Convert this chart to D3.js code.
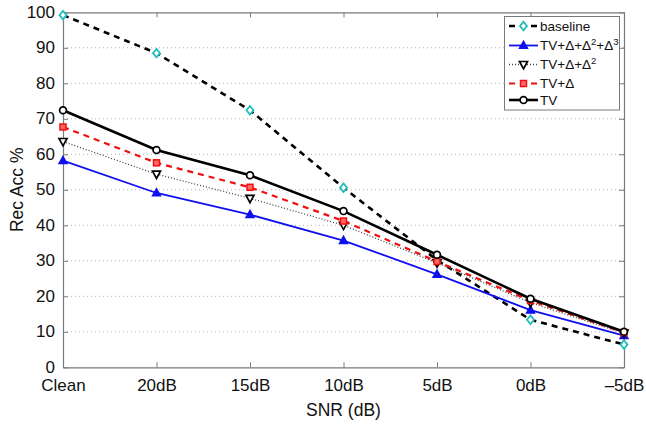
<!DOCTYPE html>
<html>
<head>
<meta charset="utf-8">
<script src="https://cdn.jsdelivr.net/npm/d3@7"></script>
<style>
  html, body { margin: 0; padding: 0; background: #fff; }
  svg { display: block; font-family: "Liberation Sans", Arial, Helvetica, sans-serif; }
</style>
</head>
<body>
<svg id="chart" width="646" height="424"></svg>
<script>
// SNR conditions along the x axis
const categories = ["Clean", "20dB", "15dB", "10dB", "5dB", "0dB", "–5dB"];
const yTicks = [0, 10, 20, 30, 40, 50, 60, 70, 80, 90, 100];

// Recognition accuracy (%) per feature set
const baseline = [99.2, 88.5, 72.4, 50.6, 30.2, 13.4, 6.4];
const tvD1D2D3 = [58.2, 49.1, 43.0, 35.7, 26.2, 16.1, 8.9];
const tvD1D2 = [63.6, 54.4, 47.6, 40.0, 29.4, 18.2, 9.6];
const tvD1 = [67.7, 57.6, 50.7, 41.2, 29.8, 18.8, 9.8];
const tv = [72.4, 61.2, 54.1, 44.0, 31.7, 19.3, 10.0];

const series = [
  { name: "baseline", values: baseline, color: "#000", width: 2.6, dash: "6,5", marker: "diamond", mColor: "#22bcbc", mFill: "#fff" },
  { name: "d3", values: tvD1D2D3, color: "#1010ee", width: 1.8, dash: null, marker: "up", mColor: "#1010ee", mFill: "#1010ee" },
  { name: "d2", values: tvD1D2, color: "#444", width: 1.3, dash: "1,2", marker: "down", mColor: "#000", mFill: "#fff" },
  { name: "d1", values: tvD1, color: "#ee1010", width: 2.2, dash: "6,5", marker: "square", mColor: "#ee1010", mFill: "#f66" },
  { name: "TV", values: tv, color: "#000", width: 2.6, dash: null, marker: "circle", mColor: "#000", mFill: "#fff" }
];

const svg = d3.select("#chart");
const L = 63, R = 624, T = 12.3, B = 367.3;

const x = d3.scalePoint().domain(categories).range([L, R]);
const y = d3.scaleLinear().domain([0, 100]).range([B, T]);

const fontSize = 17;
const axisColor = "#7a7a7a";

// horizontal dotted grid
svg.append("g").selectAll("line")
  .data(yTicks.filter(v => v > 0 && v < 100))
  .join("line")
  .attr("x1", L).attr("x2", R)
  .attr("y1", d => y(d)).attr("y2", d => y(d))
  .attr("stroke", "#b0b0b0").attr("stroke-width", 1)
  .attr("stroke-dasharray", "1,3");

function styleAxis(g) {
  g.selectAll(".domain").attr("stroke", axisColor).attr("stroke-width", 1.2);
  g.selectAll(".tick line").attr("stroke", axisColor).attr("stroke-width", 1);
  g.selectAll(".tick text").attr("fill", "#111").attr("font-size", fontSize)
    .attr("font-family", "\"Liberation Sans\", Arial, sans-serif");
}

// bottom axis
svg.append("g").attr("transform", `translate(0,${B})`)
  .call(d3.axisBottom(x).tickSizeInner(-5).tickSizeOuter(0).tickPadding(12))
  .call(styleAxis);

// left axis
svg.append("g").attr("transform", `translate(${L},0)`)
  .call(d3.axisLeft(y).tickValues(yTicks).tickSizeInner(-5).tickSizeOuter(0).tickPadding(8))
  .call(styleAxis)
  .call(g => g.selectAll(".tick text").attr("dy", "0.28em"));

// top axis (box)
svg.append("g").attr("transform", `translate(0,${T})`)
  .call(d3.axisTop(x).tickSizeInner(-5).tickSizeOuter(0).tickFormat(""))
  .call(styleAxis);

// right axis (box)
svg.append("g").attr("transform", `translate(${R},0)`)
  .call(d3.axisRight(y).tickValues(yTicks).tickSizeInner(-5).tickSizeOuter(0).tickFormat(""))
  .call(styleAxis);

// axis titles
svg.append("text")
  .attr("x", (L + R) / 2).attr("y", 416)
  .attr("text-anchor", "middle").attr("font-size", 17.5).attr("fill", "#111")
  .text("SNR (dB)");

svg.append("text")
  .attr("transform", `translate(23,${(T + B) / 2}) rotate(-90)`)
  .attr("text-anchor", "middle").attr("font-size", 17.5).attr("fill", "#111")
  .text("Rec Acc %");

// marker drawing
function drawMarker(g, type, cx, cy, stroke, fill) {
  if (type === "diamond") {
    g.append("path").attr("d", `M${cx},${cy - 4.3}L${cx + 3.5},${cy}L${cx},${cy + 4.3}L${cx - 3.5},${cy}Z`)
      .attr("fill", fill).attr("stroke", stroke).attr("stroke-width", 1.8);
  } else if (type === "up") {
    g.append("path").attr("d", `M${cx},${cy - 4.5}L${cx + 4.2},${cy + 3}L${cx - 4.2},${cy + 3}Z`)
      .attr("fill", fill).attr("stroke", stroke).attr("stroke-width", 1.2);
  } else if (type === "down") {
    g.append("path").attr("d", `M${cx},${cy + 4.3}L${cx + 4},${cy - 3}L${cx - 4},${cy - 3}Z`)
      .attr("fill", fill).attr("stroke", stroke).attr("stroke-width", 1.7);
  } else if (type === "square") {
    g.append("rect").attr("x", cx - 3).attr("y", cy - 3).attr("width", 6).attr("height", 6)
      .attr("fill", fill).attr("stroke", stroke).attr("stroke-width", 1.5);
  } else if (type === "circle") {
    g.append("circle").attr("cx", cx).attr("cy", cy).attr("r", 3.4)
      .attr("fill", fill).attr("stroke", stroke).attr("stroke-width", 1.7);
  }
}

const line = d3.line().x((d, i) => x(categories[i])).y(d => y(d));

series.forEach(s => {
  const g = svg.append("g");
  g.append("path").datum(s.values)
    .attr("d", line)
    .attr("fill", "none")
    .attr("stroke", s.color)
    .attr("stroke-width", s.width)
    .attr("stroke-dasharray", s.dash);
  s.values.forEach((v, i) => drawMarker(g, s.marker, x(categories[i]), y(v), s.mColor, s.mFill));
});

// legend
const legend = svg.append("g");
legend.append("rect")
  .attr("x", 504.5).attr("y", 16.5).attr("width", 115).attr("height", 93.5)
  .attr("fill", "#fff").attr("stroke", axisColor).attr("stroke-width", 1);

const labelParts = [
  [["baseline", ""]],
  [["TV+Δ+Δ", ""], ["2", "sup"], ["+Δ", ""], ["3", "sup"]],
  [["TV+Δ+Δ", ""], ["2", "sup"]],
  [["TV+Δ", ""]],
  [["TV", ""]]
];
const legendRows = [26, 45.5, 64.5, 83.5, 100];

series.forEach((s, i) => {
  const cy = legendRows[i];
  legend.append("line")
    .attr("x1", 509).attr("x2", 538).attr("y1", cy).attr("y2", cy)
    .attr("stroke", s.color).attr("stroke-width", s.width)
    .attr("stroke-dasharray", s.dash);
  drawMarker(legend, s.marker, 523.5, cy, s.mColor, s.mFill);
  const t = legend.append("text")
    .attr("x", 540).attr("y", cy + 4.8)
    .attr("font-size", 13.5).attr("fill", "#111");
  labelParts[i].forEach(([txt, kind]) => {
    const ts = t.append("tspan").text(txt);
    if (kind === "sup") ts.attr("font-size", 9.5).attr("dy", -5.5);
    else if (t.selectAll("tspan").size() > 1) ts.attr("dy", 5.5);
  });
});
</script>
</body>
</html>
